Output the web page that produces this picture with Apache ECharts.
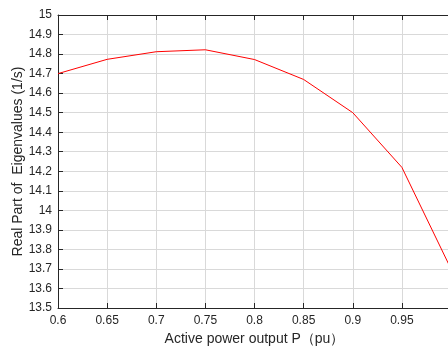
<!DOCTYPE html>
<html>
<head>
<meta charset="utf-8">
<script src="https://cdn.jsdelivr.net/npm/echarts@6/dist/echarts.min.js"></script>
<style>
html,body{margin:0;padding:0;background:#fff;}
#chart{width:448px;height:347px;}
</style>
</head>
<body>
<div id="chart"></div>
<script>
const xValues = [0.6, 0.65, 0.7, 0.75, 0.8, 0.85, 0.9, 0.95, 1.0];
const eigenReal = [14.70, 14.773, 14.812, 14.822, 14.772, 14.67, 14.50, 14.22, 13.70];
const xTitle = 'Active power output P（pu）';
const yTitle = 'Real Part of  Eigenvalues (1/s)';

const font = 'Arial, "Liberation Sans", sans-serif';
const chart = echarts.init(document.getElementById('chart'), null, {renderer: 'canvas'});
const axisLine = {show: true, lineStyle: {color: '#262626', width: 1}};
const gridLine = {show: true, lineStyle: {color: '#d9d9d9', width: 1}};
chart.setOption({
  animation: false,
  backgroundColor: '#fff',
  grid: {left: 58, top: 15, width: 393, height: 293, containLabel: false, outerBoundsMode: 'none'},
  xAxis: [{
    type: 'value', min: 0.6, max: 1.0, interval: 0.05, position: 'bottom',
    axisLine: axisLine,
    axisTick: {show: true, inside: true, length: 5, lineStyle: {color: '#262626'}},
    axisLabel: {color: '#262626', fontSize: 12, fontFamily: font, margin: 7,
      formatter: v => v >= 0.999 ? '' : String(parseFloat(v.toFixed(2)))},
    splitLine: gridLine,
    name: xTitle, nameLocation: 'middle', nameGap: 24, nameMoveOverlap: false,
    nameTextStyle: {color: '#262626', fontSize: 14, fontFamily: font}
  }, {
    type: 'value', min: 0.6, max: 1.0, interval: 0.05, position: 'top',
    axisLine: axisLine,
    axisTick: {show: true, inside: true, length: 5, lineStyle: {color: '#262626'}},
    axisLabel: {show: false}, splitLine: {show: false}
  }],
  yAxis: [{
    type: 'value', min: 13.5, max: 15, interval: 0.1,
    axisLine: axisLine,
    axisTick: {show: true, inside: true, length: 5, lineStyle: {color: '#262626'}},
    axisLabel: {color: '#262626', fontSize: 12, fontFamily: font, margin: 6,
      formatter: v => String(parseFloat(v.toFixed(1)))},
    splitLine: gridLine,
    name: yTitle, nameLocation: 'middle', nameGap: 33, nameRotate: 90, nameMoveOverlap: false,
    nameTextStyle: {color: '#262626', fontSize: 14, fontFamily: font}
  }],
  series: [{
    type: 'line',
    data: xValues.map((x, i) => [x, eigenReal[i]]),
    showSymbol: false,
    lineStyle: {color: '#ff0000', width: 1},
    itemStyle: {color: '#ff0000'}
  }]
});
</script>
</body>
</html>
